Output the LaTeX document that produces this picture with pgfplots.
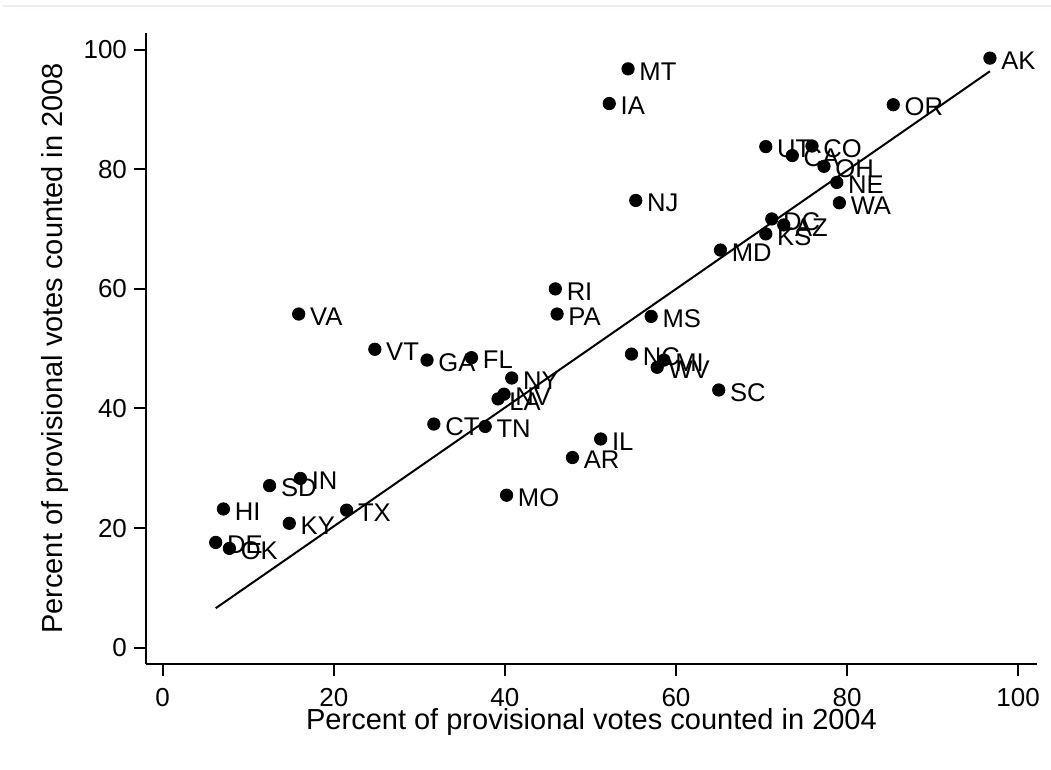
\documentclass[border=0pt]{standalone}
\usepackage{fontspec}
\setmainfont{Liberation Sans}
\usepackage{pgfplots}
\usepackage{pgfplotstable}
\pgfplotsset{compat=1.18}

\pgfplotstableread{
x y label
96.7 98.6 AK
85.4 90.8 OR
54.4 96.8 MT
52.2 91.0 IA
70.5 83.8 UT
75.9 83.9 CO
73.6 82.3 CA
77.3 80.5 OH
78.8 77.8 NE
79.1 74.4 WA
55.3 74.8 NJ
71.2 71.7 DC
72.6 70.7 AZ
70.5 69.2 KS
65.2 66.5 MD
45.9 60.0 RI
46.1 55.8 PA
57.1 55.4 MS
15.9 55.8 VA
24.8 49.9 VT
30.9 48.1 GA
36.1 48.5 FL
54.8 49.1 NC
58.6 48.1 MI
57.8 46.9 WV
65.0 43.1 SC
40.8 45.1 NY
39.9 42.4 NV
39.2 41.6 LA
31.7 37.4 CT
37.7 37.0 TN
51.2 34.9 IL
47.9 31.8 AR
40.2 25.5 MO
12.5 27.1 SD
16.1 28.3 IN
7.1 23.2 HI
14.8 20.8 KY
21.5 23.0 TX
6.2 17.6 DE
7.8 16.6 OK
}\states

\pgfplotstableread{
x y
6.2 6.6
96.7 96.4
}\fitline

\begin{document}
\begin{tikzpicture}
\useasboundingbox (-73pt,-53pt) rectangle (452.5pt,332pt);
\draw[color={rgb,255:red,232;green,238;blue,243}, line width=1pt] (-71.5pt,329.2pt) -- (452.5pt,329.2pt);
\begin{axis}[
  at={(0,0)}, anchor=south west,
  scale only axis, width=445.5pt, height=315.5pt,
  xmin=-1.95, xmax=102.2, ymin=-2.73, ymax=102.8,
  axis x line*=bottom, axis y line*=left,
  axis line style={line width=1pt, black, -},
  xtick={0,20,...,100}, ytick={0,20,...,100},
  tick align=outside, major tick length=6pt,
  tick style={line width=1pt, black},
  /pgf/number format/assume math mode=true,
  tick label style={font=\fontsize{13}{15}\selectfont},
  xticklabel style={yshift=-2.5pt},
  xlabel={Percent of provisional votes counted in 2004},
  ylabel={Percent of provisional votes counted in 2008},
  every axis x label/.style={at={(axis description cs:0.5,-0.0925)}, anchor=center, font=\fontsize{14.5}{16}\selectfont},
  every axis y label/.style={at={(axis description cs:-0.1021,0.5)}, anchor=center, rotate=90, font=\fontsize{14.5}{16}\selectfont},
  clip=false,
]
\addplot[black, line width=1pt] table {\fitline};
\addplot[only marks, mark=*, mark size=3.1pt, black,
  nodes near coords, point meta=explicit symbolic,
  nodes near coords align=horizontal,
  every node near coord/.append style={anchor=west, inner sep=0pt, xshift=5.5pt, yshift=-1.2pt, font=\fontsize{12.8}{15}\selectfont, text=black}
] table[meta=label] {\states};
\end{axis}
\end{tikzpicture}
\end{document}
